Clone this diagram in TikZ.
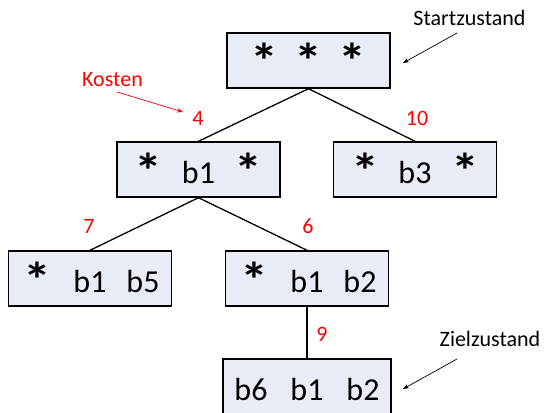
\documentclass[tikz,border=0pt]{standalone}
\usepackage{fontspec}
\setmainfont{Carlito}
\usetikzlibrary{arrows.meta}
\definecolor{boxfill}{RGB}{232,236,244}
\definecolor{kostenrot}{RGB}{255,0,0}
\newcommand{\zust}[4][53pt]{\makebox[#1]{#2}\makebox[#1]{#3}\makebox[#1]{#4}}
\newcommand{\stern}{\raisebox{-5pt}{\scalebox{1.75}[1.55]{\bfseries *}}}

\begin{document}
\begin{tikzpicture}[x=1pt,y=-1pt,
  zustand/.style={draw, line width=1.4pt, fill=boxfill, minimum width=163pt,
    inner xsep=0pt, inner ysep=0pt, text height=41pt, text depth=14pt,
    font=\fontsize{32}{38}\selectfont},
  kante/.style={line width=1.3pt},
  kosten/.style={text=kostenrot, font=\fontsize{22}{26}\selectfont, inner sep=0pt, anchor=base},
  notiz/.style={font=\fontsize{22}{26}\selectfont, inner sep=0pt, anchor=base},
  pfeil/.style={line width=0.7pt, -{Stealth[length=6pt,width=4.5pt]}}]
\useasboundingbox (0,0) rectangle (545,412);
\clip (0,0) rectangle (545,412);

% Zustaende
\node[zustand] (start) at (308.5,60.5) {\zust[44pt]{\stern}{\stern}{\stern}};
\node[zustand] (n1) at (198.5,169.5) {\zust[50pt]{\stern}{b1}{\stern}};
\node[zustand] (n3) at (415,169.5) {\zust[50pt]{\stern}{b3}{\stern}};
\node[zustand] (n15) at (90,278.5) {\zust{\stern}{b1}{b5}};
\node[zustand] (n12) at (307,278.5) {\zust{\stern}{b1}{b2}};
\node[zustand] (ziel) at (307,386.5) {\zust[56pt]{b6}{b1}{b2}};

\draw[kante] (start.south) -- (n1.north);
\draw[kante] (start.south) -- (n3.north);
\draw[kante] (n1.south) -- (n15.north);
\draw[kante] (n1.south) -- (n12.north);
\draw[kante] (n12.south) -- (ziel.north);

% Kosten
\node[kosten] (k4) at (198,125) {4};
\node[kosten] (k10) at (417,125.5) {10};
\node[kosten] (k7) at (89,233) {7};
\node[kosten] (k6) at (308,233) {6};
\node[kosten] (k9) at (322,341.5) {9};

\node[kosten] (kostenlbl) at (112.5,86) {Kosten};
\coordinate (kostenA) at (117,92);
\coordinate (kostenB) at (183,112);
\draw[pfeil,kostenrot] (kostenA) -- (kostenB);

% Start und Ziel
\node[notiz] (startlbl) at (469.5,26) {Startzustand};
\coordinate (startA) at (457,33);
\coordinate (startB) at (403,63);
\draw[pfeil] (startA) -- (startB);

\node[notiz] (ziellbl) at (490,346.5) {Zielzustand};
\coordinate (zielA) at (457,359);
\coordinate (zielB) at (403,389);
\draw[pfeil] (zielA) -- (zielB);
\end{tikzpicture}
\end{document}
